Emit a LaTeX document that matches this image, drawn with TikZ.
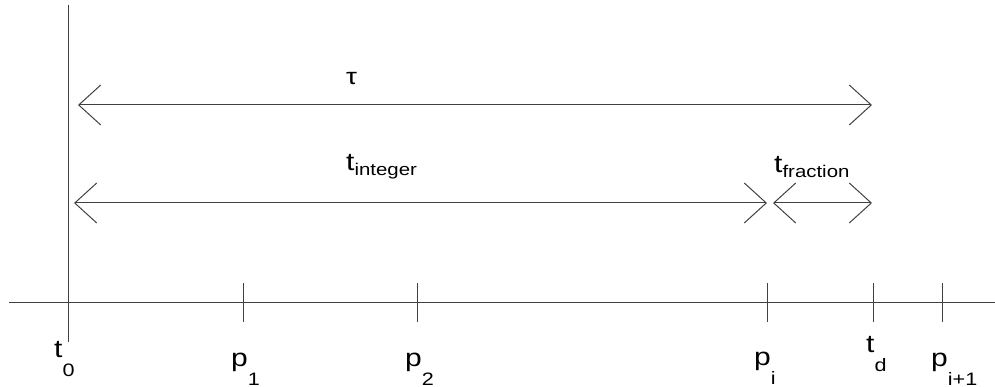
\documentclass[tikz,border=0pt]{standalone}
\usepackage{fontspec}
\usetikzlibrary{arrows.meta}
\newfontfamily\labfont[FakeStretch=1.2]{Liberation Sans}
\newcommand{\mainsz}{\fontsize{25}{25}\selectfont}
\newcommand{\lowsub}[1]{\raisebox{-19pt}{\fontsize{18}{18}\selectfont #1}}
\newcommand{\hisub}[1]{\raisebox{-5pt}{\fontsize{17}{17}\selectfont #1}}
\tikzset{
  axisline/.style={draw=black!75, line width=1pt},
  barb/.tip={Straight Barb[length=22pt,width=40pt]},
  dimarrow/.style={axisline, barb-barb},
  lab/.style={inner sep=0pt, anchor=base west, font=\labfont\mainsz, text=black},
}
\begin{document}
\begin{tikzpicture}[x=1pt,y=-1pt]
\useasboundingbox (0,0) rectangle (995,387);
% axis
\coordinate (axL) at (9,302);
\coordinate (axR) at (995,302);
\coordinate (vTop) at (68,5);
\coordinate (vBot) at (68,342);
\draw[axisline] (axL) -- (axR);
\draw[axisline] (vTop) -- (vBot);
% ticks
\foreach \n/\x in {p1/243, p2/417, pi/767, td/873, pii/942}{
  \coordinate (\n T) at (\x,283);
  \coordinate (\n B) at (\x,322);
  \draw[axisline] (\n T) -- (\n B);
}
% dimension arrows
\coordinate (tauL) at (78,105);
\coordinate (tauR) at (872,105);
\draw[dimarrow] (tauL) -- (tauR);
\coordinate (intL) at (74,203);
\coordinate (intR) at (767,203);
\draw[dimarrow] (intL) -- (intR);
\coordinate (frL) at (773,203);
\coordinate (frR) at (872,203);
\draw[dimarrow] (frL) -- (frR);
% top labels
\node[lab, font=\labfont\fontsize{23}{23}\selectfont] (tau) at (346,85) {τ};
\node[lab] (tint) at (346,171) {t\hisub{integer}};
\node[lab] (tfr) at (774,173) {t\hisub{fraction}};
% bottom labels
\node[lab] (t0) at (54,357) {t\lowsub{0}};
\node[lab] (p1) at (231,366) {p\lowsub{1}};
\node[lab] (p2) at (405,366) {p\lowsub{2}};
\node[lab] (pi) at (754,365) {p\lowsub{i}};
\node[lab] (td) at (866,352) {t\lowsub{d}};
\node[lab] (pii) at (931,366) {p\lowsub{i+1}};
\end{tikzpicture}
\end{document}
